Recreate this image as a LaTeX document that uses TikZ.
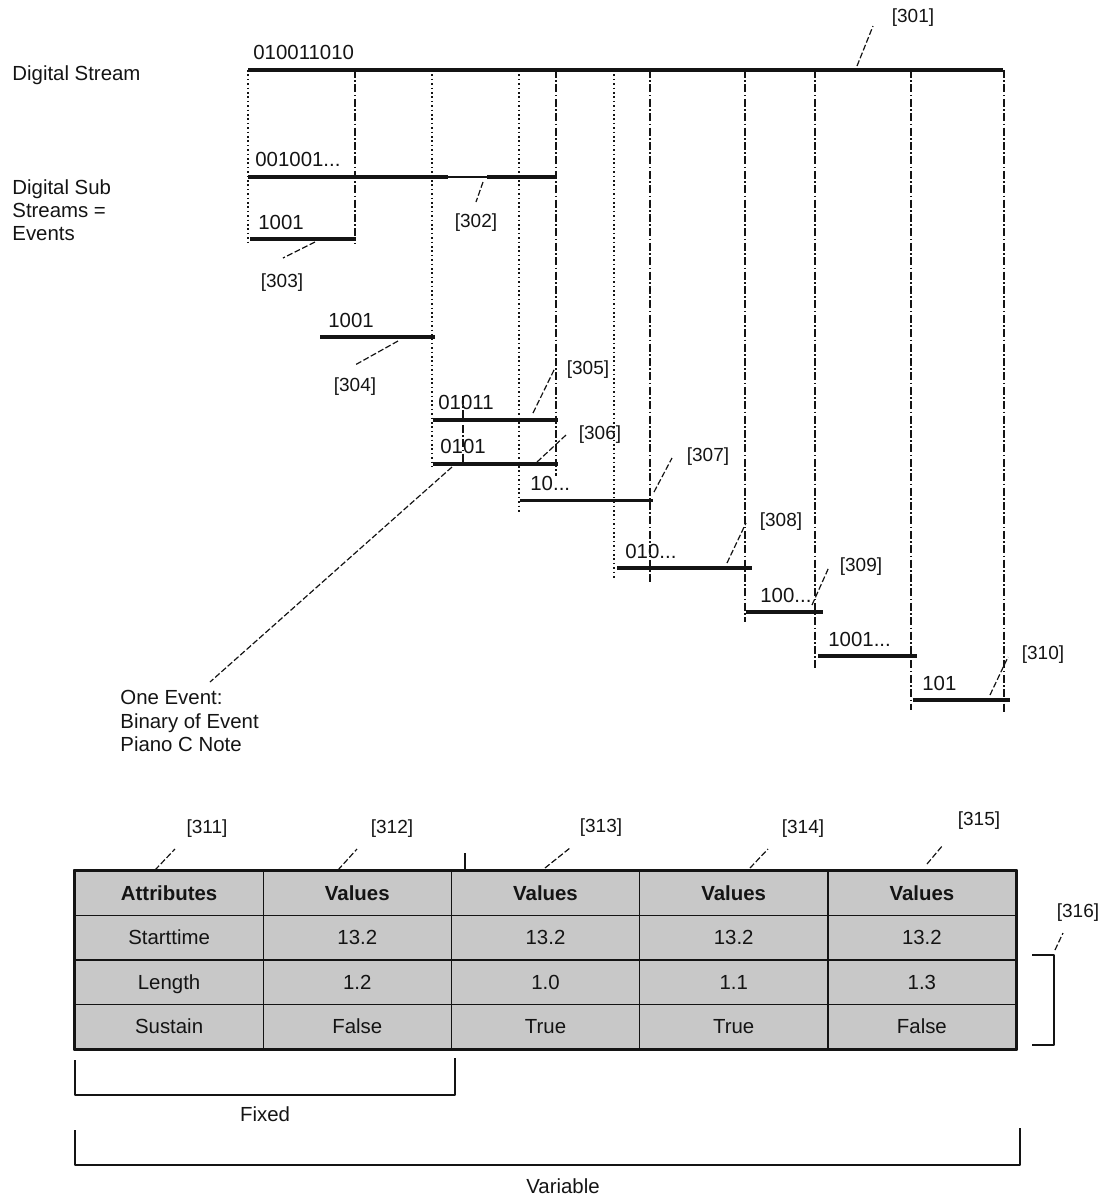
\documentclass[tikz,border=0pt]{standalone}
\usepackage{fontspec}
\setmainfont{Liberation Sans}
\usetikzlibrary{calc}
\definecolor{stink}{RGB}{20,20,20}
\definecolor{stcell}{RGB}{200,200,200}
\tikzset{
  lbl/.style={font=\fontsize{10.2}{11.6}\selectfont, inner sep=0pt, text=stink},
  bits/.style={lbl, anchor=base west},
  refno/.style={font=\fontsize{9.5}{11}\selectfont, inner sep=0pt, text=stink},
  strm/.style={draw=stink, line width=2.2pt},
  thin/.style={draw=stink, line width=0.7pt},
  guide/.style={draw=stink, line width=0.6pt, dash pattern=on 0.8pt off 1.4pt},
  guideb/.style={draw=stink, line width=0.6pt, dash pattern=on 4pt off 1.2pt on 0.8pt off 1.2pt},
  lead/.style={draw=stink, line width=0.6pt, dash pattern=on 3pt off 1.2pt},
  cell/.style={draw=stink, line width=0.7pt, fill=stcell, inner sep=0pt,
    minimum width=94.1pt, minimum height=22.25pt,
    text height=1.6ex, text depth=0.3ex,
    font=\fontsize{10.2}{12}\selectfont, text=stink},
  hcell/.style={cell, font=\fontsize{10.2}{12}\selectfont\bfseries},
  brk/.style={draw=stink, line width=0.6pt},
  every picture/.append style={line join=round}
}

\begin{document}
\begin{tikzpicture}[x=0.5pt, y=-0.5pt]
  \useasboundingbox (0,0) rectangle (1105,1196);

  % side labels
  \node[lbl, anchor=west] (dstream) at (12,75) {Digital Stream};
  \node[lbl, anchor=west, align=left] (dsub) at (12,210) {Digital Sub\\Streams =\\Events};
  \node[lbl, anchor=west, align=left] (oneev) at (120,721) {One Event:\\Binary of Event\\Piano C Note};

  % guide lines down from the stream
  \foreach \gx/\gy/\gs in {248/243/guide, 355/244/guideb, 432/467/guide, 519/512/guide,
      556/476/guideb, 614/580/guide, 650/582/guideb, 745/622/guideb,
      815/668/guideb, 911/710/guideb, 1004/712/guideb}
    \draw[\gs] (\gx,70) -- (\gx,\gy);
  \draw[guideb] (463,396) -- (463,462);

  % streams and events
  \coordinate (s301a) at (248,70);  \coordinate (s301b) at (1003,70);
  \coordinate (s302a) at (248,177); \coordinate (s302b) at (557,177);
  \coordinate (e303a) at (250,239); \coordinate (e303b) at (356,239);
  \coordinate (e304a) at (320,337); \coordinate (e304b) at (435,337);
  \coordinate (e305a) at (433,420); \coordinate (e305b) at (558,420);
  \coordinate (e306a) at (433,464); \coordinate (e306b) at (558,464);
  \coordinate (e307a) at (520,500); \coordinate (e307b) at (653,500);
  \coordinate (e308a) at (617,568); \coordinate (e308b) at (752,568);
  \coordinate (e309a) at (746,612); \coordinate (e309b) at (823,612);
  \coordinate (e30xa) at (818,656); \coordinate (e30xb) at (917,656);
  \coordinate (e310a) at (913,700); \coordinate (e310b) at (1010,700);

  \draw[strm] (s301a) -- (s301b);
  \draw[thin] (s302a) -- (s302b);
  \draw[strm] (s302a) -- ($(s302a)+(200,0)$);
  \draw[strm] ($(s302b)+(-70,0)$) -- (s302b);
  \draw[strm] (e303a) -- (e303b);
  \draw[strm] (e304a) -- (e304b);
  \draw[strm] (e305a) -- (e305b);
  \draw[strm] (e306a) -- (e306b);
  \draw[strm, line width=1.5pt] (e307a) -- (e307b);
  \draw[strm] (e308a) -- (e308b);
  \draw[strm] (e309a) -- (e309b);
  \draw[strm] (e30xa) -- (e30xb);
  \draw[strm] (e310a) -- (e310b);

  \node[bits] (b301) at ($(s301a)+(5,-11)$) {010011010};
  \node[bits] (b302) at ($(s302a)+(7,-11)$) {001001...};
  \node[bits] (b303) at ($(e303a)+(8,-10)$) {1001};
  \node[bits] (b304) at ($(e304a)+(8,-10)$) {1001};
  \node[bits] (b305) at ($(e305a)+(5,-11)$) {01011};
  \node[bits] (b306) at ($(e306a)+(7,-11)$) {0101};
  \node[bits] (b307) at ($(e307a)+(10,-10)$) {10...};
  \node[bits] (b308) at ($(e308a)+(8,-10)$) {010...};
  \node[bits] (b309) at ($(e309a)+(14,-10)$) {100...};
  \node[bits] (b30x) at ($(e30xa)+(10,-10)$) {1001...};
  \node[bits] (b310) at ($(e310a)+(9,-10)$) {101};

  % reference numbers
  \node[refno] (r301) at (913,18) {[301]};
  \node[refno] (r302) at (476,223) {[302]};
  \node[refno] (r303) at (282,283) {[303]};
  \node[refno] (r304) at (355,387) {[304]};
  \node[refno] (r305) at (588,370) {[305]};
  \node[refno] (r306) at (600,435) {[306]};
  \node[refno] (r307) at (708,457) {[307]};
  \node[refno] (r308) at (781,522) {[308]};
  \node[refno] (r309) at (861,567) {[309]};
  \node[refno] (r310) at (1043,655) {[310]};
  \node[refno] (r311) at (207,829) {[311]};
  \node[refno] (r312) at (392,829) {[312]};
  \node[refno] (r313) at (601,828) {[313]};
  \node[refno] (r314) at (803,829) {[314]};
  \node[refno] (r315) at (979,821) {[315]};
  \node[refno] (r316) at (1078,913) {[316]};

  % leaders
  \foreach \la/\lb [count=\li] in {857/66, 483/182, 315/242, 398/341, 533/413, 537/462,
      654/492, 727/563, 812/605, 990/695, 155/870, 338/870, 545/868, 750/868, 927/864, 1055/950}
    \coordinate (lp\li) at (\la,\lb);
  \foreach \la/\lb [count=\li] in {873/26, 476/202, 283/258, 355/365, 555/368, 566/435,
      672/458, 746/523, 829/567, 1008/657, 175/849, 357/849, 570/848, 768/849, 943/845, 1063/933}
    \coordinate (lq\li) at (\la,\lb);
  \foreach \li in {1,...,16}
    \draw[lead] (lp\li) -- (lq\li);
  \coordinate (evpt) at (452,467);
  \coordinate (evend) at (210,682);
  \draw[lead] (evpt) -- (evend);

  % table
  \foreach \tv [count=\ci] in {Attributes,Values,Values,Values,Values}
    \node[hcell] (h\ci) at ({75+(\ci-0.5)*188.2},{871+0.5*44.5}) {\tv};
  \foreach \ta/\tb/\tc/\td/\te [count=\ri] in {Starttime/13.2/13.2/13.2/13.2,
      Length/1.2/1.0/1.1/1.3, Sustain/False/True/True/False}{
    \foreach \tv [count=\ci] in {\ta,\tb,\tc,\td,\te}
      \node[cell] (t\ri\ci) at ({75+(\ci-0.5)*188.2},{871+(\ri+0.5)*44.5}) {\tv};
  }
  \draw[stink, line width=1.1pt] (h1.north west) rectangle (t35.south east);
  \draw[thin] (465,853) -- (465,870);

  % brackets
  \draw[brk] (75,1060) |- (455,1095) -- (455,1058);
  \node[lbl] (fixed) at (265,1114) {Fixed};
  \draw[brk] (75,1130) |- (1020,1165) -- (1020,1128);
  \node[lbl] (variable) at (563,1186) {Variable};
  \draw[brk] (1032,955) -| (1054,1045) -- (1032,1045);
\end{tikzpicture}
\end{document}
